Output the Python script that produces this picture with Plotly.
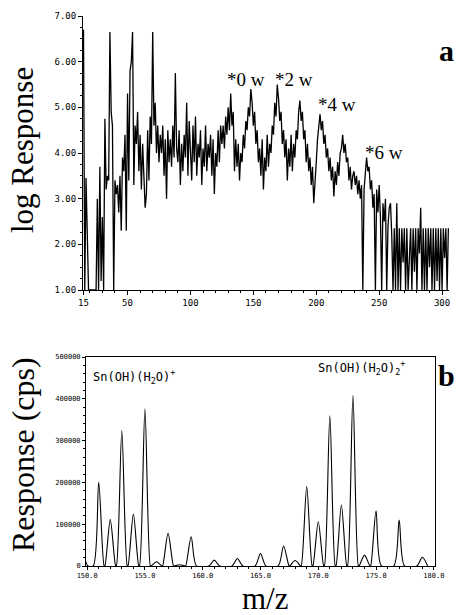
import plotly.graph_objects as go

# ---------------- Panel a: log Response vs m/z (integer m/z 15..305) ----------------
mz_a_start = 15
log_response = [
    6.70, 1.00, 3.45, 1.95, 1.00, 1.00, 1.00, 1.00, 1.00, 1.00,   # 15-24
    1.00, 3.00, 1.00, 3.70, 1.20, 2.60, 1.00, 4.75, 3.20, 3.50,   # 25-34
    3.40, 6.65, 4.90, 4.60, 1.00, 3.40, 3.10, 3.30, 2.70, 3.50,   # 35-44
    2.30, 3.90, 3.60, 4.40, 2.30, 5.30, 3.40, 5.80, 6.00, 6.65,   # 45-54
    3.30, 4.60, 4.20, 4.90, 3.60, 4.40, 3.20, 4.20, 3.30, 2.80,   # 55-64
    3.10, 4.50, 3.40, 4.80, 4.20, 6.65, 4.60, 5.10, 4.00, 4.60,   # 65-74
    3.80, 4.40, 4.00, 4.60, 3.50, 4.30, 3.00, 4.50, 3.80, 4.30,   # 75-84
    3.70, 4.60, 3.90, 5.75, 4.10, 3.80, 4.50, 3.30, 4.20, 3.60,   # 85-94
    4.40, 3.90, 5.10, 3.50, 4.70, 4.00, 3.40, 4.60, 3.80, 4.80,   # 95-104
    3.50, 4.20, 3.90, 4.50, 3.30, 4.10, 3.70, 4.60, 3.60, 4.20,   # 105-114
    3.90, 4.40, 3.50, 4.30, 3.10, 4.00, 3.70, 4.50, 3.80, 4.60,   # 115-124
    4.20, 4.60, 4.10, 4.80, 4.40, 5.00, 4.50, 5.30, 4.60, 4.90,   # 125-134
    3.60, 4.30, 3.70, 4.20, 3.40, 4.00, 3.80, 4.40, 4.10, 4.70,   # 135-144
    4.50, 5.00, 4.80, 5.40, 5.10, 4.60, 4.90, 4.20, 4.50, 3.80,   # 145-154
    4.10, 3.50, 4.30, 3.20, 3.90, 3.60, 4.40, 3.70, 4.20, 4.00,   # 155-164
    4.60, 4.40, 5.10, 4.80, 5.50, 5.20, 4.70, 4.90, 4.20, 4.50,   # 165-174
    3.90, 4.30, 3.40, 4.10, 3.70, 4.40, 3.60, 4.20, 3.90, 4.50,   # 175-184
    4.30, 4.90, 5.15, 4.70, 4.90, 4.30, 4.50, 3.80, 4.20, 3.60,   # 185-194
    3.90, 3.30, 3.70, 2.90, 3.50, 3.80, 4.30, 4.60, 4.85, 4.50,   # 195-204
    4.70, 4.20, 4.40, 3.90, 4.10, 3.60, 3.90, 3.40, 3.70, 3.05,   # 205-214
    3.60, 3.30, 3.80, 3.50, 4.00, 4.10, 4.40, 4.00, 4.20, 3.80,   # 215-224
    3.90, 3.40, 3.70, 3.20, 3.50, 3.60, 3.30, 3.50, 3.10, 3.40,   # 225-234
    3.00, 3.30, 1.00, 3.20, 3.50, 3.90, 3.60, 3.70, 3.20, 3.40,   # 235-244
    2.80, 3.10, 1.00, 3.20, 2.70, 3.30, 2.60, 1.00, 2.90, 2.50,   # 245-254
    3.00, 1.00, 2.40, 2.80, 2.90, 2.20, 1.00, 2.35, 1.00, 2.90,   # 255-264
    1.00, 2.35, 1.00, 2.35, 1.60, 2.35, 1.00, 2.35, 1.00, 1.90,   # 265-274
    2.35, 1.00, 2.35, 1.40, 2.35, 1.00, 2.35, 1.80, 2.80, 1.00,   # 275-284
    2.35, 1.00, 2.35, 1.00, 2.35, 1.50, 2.35, 1.00, 2.35, 1.00,   # 285-294
    2.35, 1.20, 2.35, 1.00, 2.35, 1.00, 2.35, 1.70, 2.35, 1.00,   # 295-304
    2.35,                                                         # 305
]
mz_a = [mz_a_start + i for i in range(len(log_response))]
a_xticks = [15, 50, 100, 150, 200, 250, 300]
a_yticks = [1, 2, 3, 4, 5, 6, 7]
a_labels = ["*0 w", "*2 w", "*4 w", "*6 w"]
a_label_mz = [144.5, 182.0, 216.5, 253.5]
a_label_val = [5.62, 5.62, 5.07, 4.02]

# ---------------- Panel b: Response (cps) vs m/z ----------------
peak_mz = [149.6, 151, 152, 153, 154, 155, 156, 157, 158, 159, 161, 163, 165,
           167, 168, 169, 170, 171, 172, 173, 174, 175, 177, 179]
peak_cps = [26000, 200000, 111000, 324000, 124000, 376000, 10000, 78000, 3000,
            70000, 14000, 18000, 30000, 48000, 13000, 190000, 106000, 360000,
            146000, 408000, 26000, 132000, 110000, 21000]
b_xticks = [150, 155, 160, 165, 170, 175, 180]
b_xticklabels = ["150.0", "155.0", "160.0", "165.0", "170.0", "175.0", "180.0"]
b_yticks = [0, 100000, 200000, 300000, 400000, 500000]
b_yticklabels = ["0", "100000", "200000", "300000", "400000", "500000"]

half = 0.47  # drawing style: half base width of each profile peak
spec_x, spec_y = [], []
for c, h in zip(peak_mz, peak_cps):
    spec_x += [c - half, c, c + half]
    spec_y += [0, h, 0]

fig = go.Figure()
fig.add_trace(go.Scatter(x=mz_a, y=log_response, mode="lines",
                         line=dict(color="black", width=1.3),
                         xaxis="x", yaxis="y", showlegend=False))
fig.add_trace(go.Scatter(x=spec_x, y=spec_y, mode="lines",
                         line=dict(color="black", width=1.1, shape="spline", smoothing=0.8),
                         xaxis="x2", yaxis="y2", showlegend=False))

W, H = 462, 615
def px(x):
    return x / W
def py(y):
    return 1 - y / H

tickfont = dict(family="DejaVu Sans Mono", size=9, color="black")
tickfont_small = dict(family="DejaVu Sans Mono", size=7, color="black")

fig.update_layout(
    width=W, height=H,
    margin=dict(l=0, r=0, t=0, b=0, pad=0, autoexpand=False),
    paper_bgcolor="white", plot_bgcolor="white",
    showlegend=False,
    xaxis=dict(domain=[px(83), px(449)], anchor="y", range=[14.6, 305.5],
               automargin=False,
               tickvals=a_xticks, ticks="outside", ticklen=4, tickwidth=1,
               tickcolor="black", showline=True, linecolor="black", linewidth=1,
               showgrid=False, zeroline=False, tickfont=tickfont,
               minor=dict(dtick=10, tick0=0, ticklen=2, ticks="outside",
                          tickcolor="black", showgrid=False)),
    yaxis=dict(domain=[py(290), py(16)], anchor="x", range=[1, 7],
               automargin=False,
               tickvals=a_yticks, tickformat=".2f", ticks="outside", ticklen=4,
               tickwidth=1, tickcolor="black", showline=True, linecolor="black",
               linewidth=1, showgrid=False, zeroline=False, tickfont=tickfont,
               minor=dict(dtick=0.25, ticklen=2, ticks="outside",
                          tickcolor="black", showgrid=False)),
    xaxis2=dict(domain=[px(86), px(435)], anchor="y2", range=[149.9, 180.1],
                automargin=False,
                tickvals=b_xticks, ticktext=b_xticklabels, ticks="outside",
                ticklen=3, tickwidth=1, tickcolor="black", showline=True,
                linecolor="black", linewidth=1, mirror=True, showgrid=False,
                zeroline=False, tickfont=tickfont_small,
                minor=dict(dtick=1, ticklen=2, ticks="outside",
                           tickcolor="black", showgrid=False)),
    yaxis2=dict(domain=[py(566), py(357)], anchor="x2", range=[0, 500000],
                automargin=False,
                tickvals=b_yticks, ticktext=b_yticklabels, ticks="outside",
                ticklen=3, tickwidth=1, tickcolor="black", showline=True,
                linecolor="black", linewidth=1, mirror=True, showgrid=False,
                zeroline=False, tickfont=tickfont_small,
                minor=dict(dtick=20000, ticklen=2, ticks="outside",
                           tickcolor="black", showgrid=False)),
)

serif = "Liberation Serif"
def pann(text, x, y, size, family=serif, angle=0):
    return dict(text=text, x=px(x), y=py(y), xref="paper", yref="paper",
                xanchor="center", yanchor="middle", textangle=angle,
                showarrow=False, font=dict(family=family, size=size, color="black"))

ann = []
for t, xm, yv in zip(a_labels, a_label_mz, a_label_val):
    ann.append(dict(text=t, x=xm, y=yv, xref="x", yref="y", showarrow=False,
                    xanchor="center", yanchor="middle",
                    font=dict(family=serif, size=19, color="black")))
ann += [
    pann("log Response", 22, 150, 31, angle=-90),
    pann("Response (cps)", 23, 455, 32, angle=-90),
    pann("m/z", 265, 598, 31),
    pann("<b>a</b>", 446, 51, 30),
    pann("<b>b</b>", 446, 376, 30),
    pann("Sn(OH)(H<sub>2</sub>O)<sup>+</sup>", 134, 377, 12, family="DejaVu Sans Mono"),
    pann("Sn(OH)(H<sub>2</sub>O)<sub>2</sub><sup>+</sup>", 361, 368, 12, family="DejaVu Sans Mono"),
]
fig.update_layout(annotations=ann)

fig.write_html("out.html", config={"displayModeBar": False},
               post_script="document.body.style.margin='0';document.body.style.padding='0';")
